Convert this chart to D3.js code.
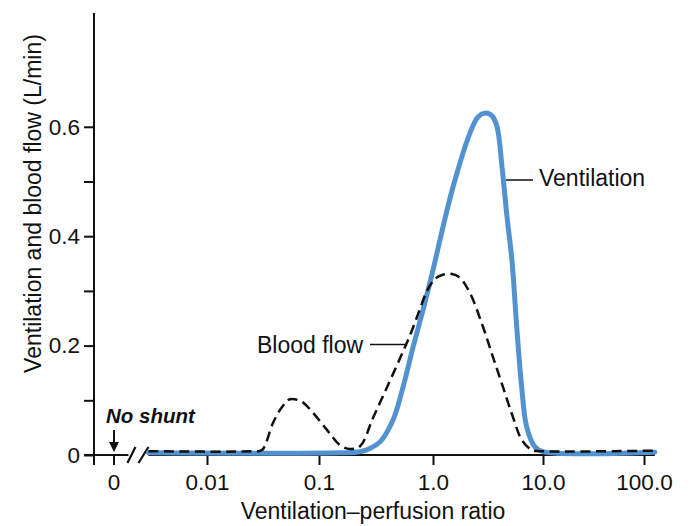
<!DOCTYPE html>
<html><head><meta charset="utf-8">
<script src="https://cdn.jsdelivr.net/npm/d3@7"></script>
<style>
html,body{margin:0;padding:0;background:#fff;}
text{font-family:"Liberation Sans",Arial,Helvetica,sans-serif;fill:#111;}
</style></head>
<body>
<svg id="chart" width="694" height="526"></svg>
<script>
// ---- data ----
const xTickValues = [0.01, 0.1, 1, 10, 100];
const xTickLabels = ["0.01", "0.1", "1.0", "10.0", "100.0"];
const yTickValues = [0, 0.1, 0.2, 0.3, 0.4, 0.5, 0.6];
const yTickLabels = ["0", "", "0.2", "", "0.4", "", "0.6"];
const zeroLabel = "0";

const bloodRatio = [0.003, 0.0268, 0.031, 0.0388, 0.0468, 0.0551, 0.0705, 0.0884, 0.1175, 0.153, 0.187, 0.229, 0.298, 0.395, 0.514, 0.629, 0.769, 0.885, 1.043, 1.21, 1.49, 1.76, 2.17, 2.85, 3.51, 4.33, 5.34, 6.44, 7.94, 9.39, 128];
const bloodFlow  = [0.007, 0.007, 0.009, 0.0585, 0.0878, 0.102, 0.097, 0.077, 0.046, 0.018, 0.011, 0.016, 0.068, 0.124, 0.177, 0.219, 0.267, 0.300, 0.322, 0.329, 0.331, 0.324, 0.296, 0.234, 0.179, 0.124, 0.069, 0.027, 0.009, 0.007, 0.008];

const ventRatio = [0.003, 0.153, 0.229, 0.280, 0.343, 0.446, 0.546, 0.668, 0.817, 1.0, 1.233, 1.52, 2.17, 2.565, 2.97, 3.44, 3.82, 4.24, 4.71, 5.22, 5.77, 6.40, 7.11, 8.45, 10, 128];
const ventFlow  = [0.004, 0.004, 0.006, 0.012, 0.024, 0.064, 0.124, 0.197, 0.265, 0.338, 0.417, 0.490, 0.589, 0.618, 0.625, 0.620, 0.600, 0.527, 0.435, 0.356, 0.234, 0.124, 0.051, 0.015, 0.006, 0.005];

// ---- layout ----
const svg = d3.select("#chart");
const x = d3.scaleLog()
  .domain([0.001, 0.01, 0.1, 1, 10, 100, 1000])
  .range([95, 207, 319, 433, 543, 644, 745]);
const y = d3.scaleLinear().domain([0, 0.6]).range([455, 126.8]);
const axisX = 94, y0 = y(0), zeroX = 114, yTop = y(0.808);
const FS = 22.5, LS = 23;

// y axis
const gy = svg.append("g").attr("transform", `translate(${axisX},0)`)
  .call(d3.axisLeft(y).tickValues(yTickValues).tickSize(10).tickPadding(4)
    .tickFormat((d, i) => yTickLabels[i]));
gy.select(".domain").remove();
gy.selectAll(".tick line").attr("stroke", "#111").attr("stroke-width", 2);
gy.selectAll(".tick text").attr("font-size", FS).attr("font-family", "Liberation Sans, Arial, sans-serif").attr("fill", "#111");
svg.append("line").attr("x1", axisX).attr("x2", axisX).attr("y1", yTop).attr("y2", y0 + 10)
  .attr("stroke", "#111").attr("stroke-width", 2);

// x axis (log part)
const gx = svg.append("g").attr("transform", `translate(0,${y0})`)
  .call(d3.axisBottom(x).tickValues(xTickValues).tickSize(10)
    .tickFormat((d, i) => xTickLabels[i]));
gx.select(".domain").remove();
gx.selectAll(".tick line").attr("stroke", "#111").attr("stroke-width", 2);
gx.selectAll(".tick text").attr("font-size", FS).attr("font-family", "Liberation Sans, Arial, sans-serif")
  .attr("fill", "#111").attr("y", 35).attr("dy", 0);

const xStart = x(bloodRatio[0]), xEnd = x(bloodRatio[bloodRatio.length - 1]);
svg.append("line").attr("x1", xStart).attr("x2", xEnd).attr("y1", y0).attr("y2", y0)
  .attr("stroke", "#111").attr("stroke-width", 2);
// x axis (zero part)
svg.append("line").attr("x1", axisX - 10).attr("x2", xStart - 20).attr("y1", y0).attr("y2", y0)
  .attr("stroke", "#111").attr("stroke-width", 2);
svg.append("line").attr("x1", zeroX).attr("x2", zeroX).attr("y1", y0).attr("y2", y0 + 10)
  .attr("stroke", "#111").attr("stroke-width", 2);
svg.append("text").attr("x", zeroX).attr("y", y0 + 35).attr("text-anchor", "middle")
  .attr("font-size", FS).text(zeroLabel);
// break marks
[[xStart - 21, xStart - 13], [xStart - 10, xStart]].forEach(([a, b]) => {
  svg.append("line").attr("x1", a).attr("y1", y0 + 8).attr("x2", b).attr("y2", y0 - 8)
    .attr("stroke", "#111").attr("stroke-width", 2.2);
});

// No shunt
svg.append("text").attr("x", 106).attr("y", 423).attr("font-size", 20.5)
  .attr("font-weight", "bold").attr("font-style", "italic").text("No shunt");
svg.append("line").attr("x1", zeroX).attr("x2", zeroX).attr("y1", 430).attr("y2", 444)
  .attr("stroke", "#111").attr("stroke-width", 2);
svg.append("path").attr("d", `M${zeroX - 5},442 L${zeroX + 5},442 L${zeroX},452 Z`).attr("fill", "#111");

// lines
const line = d3.line().x(d => x(d[0])).y(d => y(d[1])).curve(d3.curveCatmullRom.alpha(0.5));
svg.append("path").datum(ventRatio.map((r, i) => [r, ventFlow[i]]))
  .attr("d", line).attr("fill", "none").attr("stroke", "#5392d0").attr("stroke-width", 5)
  .attr("stroke-linejoin", "round").attr("stroke-linecap", "round");
svg.append("path").datum(bloodRatio.map((r, i) => [r, bloodFlow[i]]))
  .attr("d", line).attr("fill", "none").attr("stroke", "#111").attr("stroke-width", 2.5)
  .attr("stroke-dasharray", "10,5.5");

// labels
svg.append("text").attr("x", 257).attr("y", 353).attr("font-size", LS).text("Blood flow");
svg.append("line").attr("x1", 370).attr("x2", 407).attr("y1", 344.5).attr("y2", 344.5)
  .attr("stroke", "#111").attr("stroke-width", 1.5);
svg.append("text").attr("x", 539).attr("y", 186).attr("font-size", LS).text("Ventilation");
svg.append("line").attr("x1", 506).attr("x2", 533).attr("y1", 180).attr("y2", 180)
  .attr("stroke", "#111").attr("stroke-width", 1.5);

// axis titles
svg.append("text").attr("x", 373).attr("y", 519).attr("text-anchor", "middle")
  .attr("font-size", LS).text("Ventilation–perfusion ratio");
svg.append("text").attr("transform", "translate(41,203.5) rotate(-90)").attr("text-anchor", "middle")
  .attr("font-size", LS).text("Ventilation and blood flow (L/min)");
</script>
</body></html>
